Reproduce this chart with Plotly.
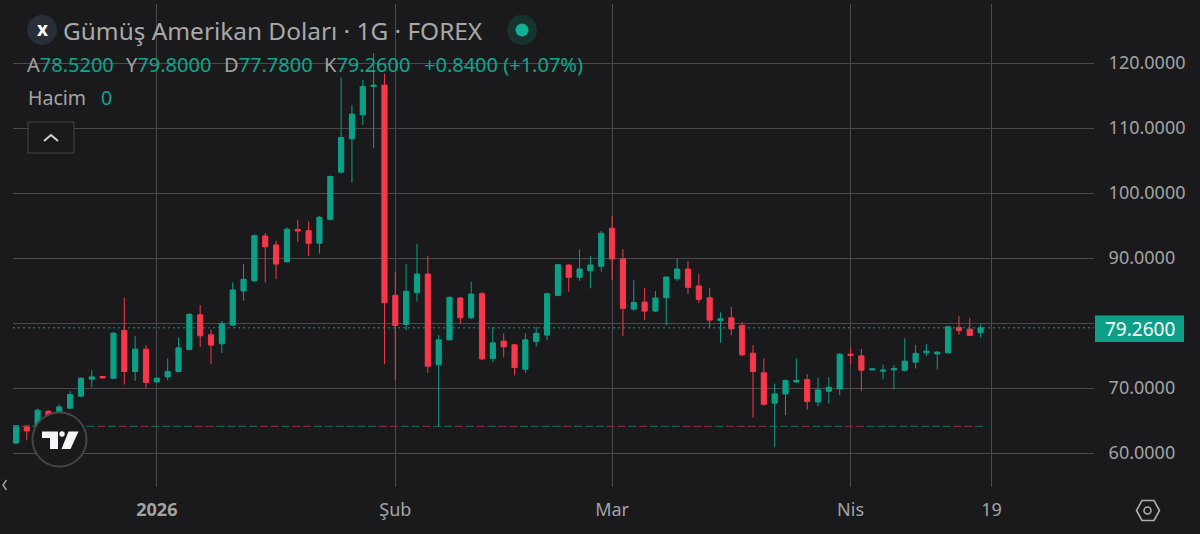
# Silver / USD daily candles, dark theme

import plotly.graph_objects as go

open_ = [61.54, 64.16, 64.0, 66.43, 66.27, 66.89, 68.74, 71.36, 71.77, 71.51,
         78.86, 72.54, 75.98, 70.94, 71.71, 72.54, 75.93, 81.26, 78.18, 76.8,
         79.68, 84.92, 86.5, 93.39, 92.0, 89.43, 94.39, 94.2, 92.27, 95.96,
         103.2, 108.34, 112.03, 116.39, 116.6, 84.25, 79.78, 84.65, 87.53, 73.56,
         77.41, 83.84, 80.8, 84.5, 74.55, 77.21, 76.64, 72.9, 77.16, 78.14,
         84.25, 88.92, 87.03, 88.04, 88.72, 94.58, 89.85, 82.14, 83.22, 81.83,
         83.88, 86.81, 88.31, 85.69, 83.88, 80.4, 80.8, 79.63, 75.36, 72.33,
         67.66, 69.09, 70.94, 71.31, 67.86, 69.51, 69.86, 75.21, 74.95, 72.79,
         72.59, 72.79, 72.74, 73.98, 75.41, 75.25, 75.41, 79.32, 79.06, 78.52]
high = [64.3, 64.3, 66.84, 66.58, 67.46, 69.5, 71.6, 72.74, 71.85, 78.6,
        83.88, 77.98, 76.6, 71.6, 74.55, 77.78, 81.5, 82.76, 79.0, 80.3,
        86.25, 89.08, 93.6, 93.85, 92.66, 94.73, 95.86, 95.6, 96.47, 102.7,
        117.78, 113.57, 117.43, 121.54, 118.35, 87.89, 89.03, 92.16, 90.31, 78.14,
        84.1, 84.0, 86.35, 84.8, 79.41, 78.4, 76.8, 78.4, 79.41, 84.7,
        89.1, 89.0, 91.34, 90.31, 94.16, 96.47, 91.34, 86.61, 85.42, 84.92,
        87.2, 89.95, 89.54, 87.53, 85.42, 81.63, 82.5, 80.18, 76.6, 74.55,
        70.69, 71.3, 74.59, 72.13, 71.62, 71.71, 75.4, 76.13, 76.02, 73.0,
        73.62, 73.51, 77.63, 76.6, 76.75, 75.7, 79.6, 81.06, 80.8, 79.8]
low = [61.34, 61.96, 63.9, 65.3, 66.0, 66.8, 68.6, 70.08, 71.5, 71.4,
       70.54, 71.09, 70.02, 70.85, 71.2, 72.4, 75.8, 76.33, 73.67, 75.4,
       79.5, 83.42, 86.3, 86.25, 86.76, 89.3, 92.5, 90.3, 90.7, 95.8,
       103.0, 101.6, 110.49, 106.9, 73.67, 71.2, 78.9, 83.27, 72.33, 64.11,
       77.3, 79.94, 80.6, 74.3, 73.98, 74.7, 71.93, 72.33, 76.33, 77.37,
       84.1, 84.8, 86.5, 85.33, 87.89, 86.61, 78.03, 81.83, 80.45, 81.7,
       79.68, 86.5, 84.45, 83.11, 79.32, 76.95, 78.14, 74.9, 65.45, 67.3,
       60.92, 65.81, 70.8, 66.69, 67.24, 67.61, 68.89, 73.71, 69.51, 72.7,
       71.31, 69.77, 72.6, 73.0, 74.9, 72.85, 75.3, 78.24, 78.0, 77.78]
close = [64.22, 63.39, 66.58, 65.5, 67.09, 69.0, 71.51, 71.71, 71.56, 78.44,
         72.54, 75.98, 70.85, 71.51, 72.54, 76.18, 81.33, 78.03, 76.6, 79.88,
         85.07, 86.72, 93.44, 91.74, 89.07, 94.42, 94.16, 92.27, 96.27, 102.53,
         108.54, 112.14, 116.39, 116.6, 83.11, 79.63, 84.87, 87.53, 73.36, 77.41,
         83.94, 80.8, 84.45, 74.48, 76.95, 76.33, 73.16, 77.41, 78.4, 84.5,
         88.97, 87.03, 88.31, 88.92, 93.81, 89.85, 82.25, 83.17, 81.83, 83.84,
         87.07, 88.31, 85.49, 83.64, 80.45, 80.65, 79.11, 75.1, 72.54, 67.5,
         69.09, 71.16, 71.16, 67.92, 69.71, 70.12, 75.21, 75.01, 72.74, 72.94,
         72.74, 73.0, 74.13, 75.32, 75.67, 75.52, 79.41, 78.86, 78.09, 79.26]

tick_pos = [13, 35, 55, 77, 90]
tick_text = ["<b>2026</b>", "Şub", "Mar", "Nis", "19"]
price_ticks = [60, 70, 80, 90, 100, 110, 120]
# 80 sits behind the last price tag, so it has no label
price_labels = ["60.0000", "70.0000", "", "90.0000", "100.0000", "110.0000", "120.0000"]
last_price = 79.26
low_line = 64.11

title_text = "Gümüş Amerikan Doları · 1G · FOREX"
ohlc_labels = ["A", "Y", "D", "K"]
ohlc_values = ["78.5200", "79.8000", "77.7800", "79.2600"]
change_text = "+0.8400 (+1.07%)"

BG = "#1a1a1c"
GRID = "#4a4a4c"
TEXT = "#a3a3a3"
GREEN = "#0ba087"
RED = "#f7374b"
VALUE = "#10a58c"
FONT = "Noto Sans"

# plot area in window pixels
L, R, T, B = 13, 1094, 4, 487


def px(x):
    return (x - L) / (R - L)


def py(y):
    return (B - y) / (B - T)


def path(points, close_it=True):
    d = "M" + " L".join(f"{px(x):.5f},{py(y):.5f}" for x, y in points)
    return d + " Z" if close_it else d


def circle(cx, cy, r, fill, line=None, width=0):
    return dict(type="circle", xref="paper", yref="paper",
                x0=px(cx - r), x1=px(cx + r), y0=py(cy + r), y1=py(cy - r),
                fillcolor=fill, line=dict(color=line or fill, width=width))


def label(x, y, text, size=17, color=TEXT, anchor="left"):
    return dict(xref="paper", yref="paper", x=px(x), y=py(y), text=text,
                showarrow=False, xanchor=anchor, yanchor="middle",
                font=dict(family=FONT, size=size, color=color))


idx = list(range(len(close)))

fig = go.Figure()

# dashed line along the lowest low, coloured per candle
for color, is_up in [("#1f6f62", True), ("#93303f", False)]:
    xs, ys = [], []
    for i in idx:
        if (close[i] >= open_[i]) == is_up:
            xs += [i - 0.5, i + 0.5, None]
            ys += [low_line, low_line, None]
    fig.add_trace(go.Scatter(x=xs, y=ys, mode="lines", hoverinfo="skip",
                             line=dict(color=color, width=1, dash="8px,3px")))

fig.add_trace(go.Candlestick(
    x=idx, open=open_, high=high, low=low, close=close,
    increasing=dict(line=dict(color=GREEN, width=1), fillcolor=GREEN),
    decreasing=dict(line=dict(color=RED, width=1), fillcolor=RED),
    whiskerwidth=0,
))

shapes = [
    # last price line and tag
    dict(type="line", xref="paper", yref="y", x0=0, x1=1, y0=last_price, y1=last_price,
         line=dict(color=GREEN, width=1, dash="2px,3px")),
    dict(type="rect", xref="paper", yref="paper", x0=px(1095), x1=px(1184),
         y0=py(342), y1=py(315.5), fillcolor=GREEN, line=dict(width=0)),
    # symbol badge and status dot
    circle(42, 30, 15, "#2a2e39"),
    circle(522, 30, 15, "#17332f"),
    circle(522, 30, 6.5, "#10b094"),
    # collapse button
    dict(type="rect", xref="paper", yref="paper", x0=px(28), x1=px(74),
         y0=py(153), y1=py(122), fillcolor=BG, line=dict(color="#444446", width=1)),
    dict(type="path", xref="paper", yref="paper", path=path([(44, 141), (51, 135), (58, 141)], False),
         line=dict(color="#d0d0d0", width=2)),
    # logo
    circle(59.5, 439.5, 27, BG, "#454547", 2),
    dict(type="path", xref="paper", yref="paper", fillcolor="#f5f5f5", line=dict(width=0),
         path=path([(42, 431.5), (58, 431.5), (58, 449), (50, 449), (50, 438), (42, 438)])),
    circle(62, 434, 2.7, "#f5f5f5"),
    dict(type="path", xref="paper", yref="paper", fillcolor="#f5f5f5", line=dict(width=0),
         path=path([(68.5, 431.5), (78.5, 431.5), (70.5, 449), (61.5, 449)])),
    # page-left arrow
    dict(type="path", xref="paper", yref="paper", path=path([(6.5, 480), (3, 485), (6.5, 490)], False),
         line=dict(color="#a0a0a0", width=1.5)),
    # settings hexagon
    dict(type="path", xref="paper", yref="paper", line=dict(color="#b0b0b0", width=1.6),
         path=path([(1136.5, 510.5), (1142, 500.5), (1154, 500.5), (1159.5, 510.5), (1154, 520.5), (1142, 520.5)])),
    circle(1147.5, 510.5, 3.5, BG, "#b0b0b0", 1.5),
]

annotations = [
    label(42, 29, "<b>x</b>", 19, "#ffffff", "center"),
    label(61, 31, title_text, 24.4, "#a8a8a8"),
    label(26, 98, "Hacim", 19.5, TEXT),
    label(99, 98, "0", 19.5, VALUE),
    label(422, 64, change_text, 20, VALUE),
    label(1139.5, 329, f"{last_price:.4f}", 19, "#ffffff", "center"),
]
for lab, val, x in zip(ohlc_labels, ohlc_values, [25, 124, 222, 322]):
    annotations.append(label(x, 64, f'{lab}<span style="color:{VALUE}">{val}</span>', 20, TEXT))

fig.update_layout(
    width=1200, height=534,
    margin=dict(l=L, r=1200 - R, t=T, b=534 - B),
    paper_bgcolor=BG, plot_bgcolor=BG,
    showlegend=False, boxgap=0.32,
    font=dict(family=FONT, color=TEXT, size=18),
    shapes=shapes, annotations=annotations,
    xaxis=dict(range=[-0.27, 99.46], rangeslider=dict(visible=False),
               tickmode="array", tickvals=tick_pos, ticktext=tick_text,
               showgrid=True, gridcolor=GRID, gridwidth=1, zeroline=False,
               ticks="outside", ticklen=6, tickcolor=BG, showline=False),
    yaxis=dict(range=[54.77, 129.08], side="right",
               tickmode="array", tickvals=price_ticks, ticktext=price_labels,
               showgrid=True, gridcolor=GRID, gridwidth=1, zeroline=False,
               ticks="outside", ticklen=10, tickcolor=BG, showline=False),
)

fig.write_html("out.html", config={"displayModeBar": False},
               post_script="document.body.style.margin='0';document.body.style.overflow='hidden';")
